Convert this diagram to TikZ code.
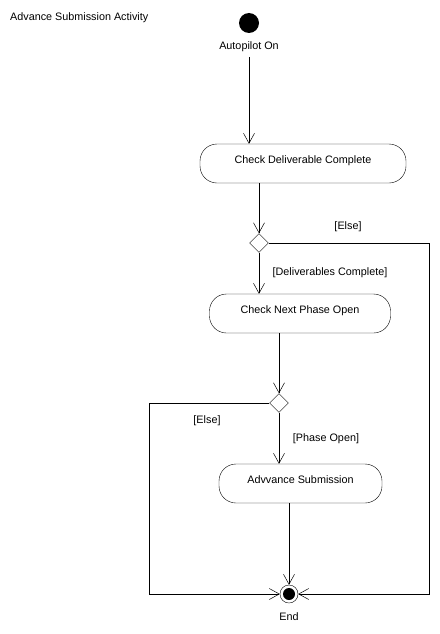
\documentclass[tikz,border=0pt]{standalone}
\usepackage{fontspec}
\setmainfont{Liberation Sans}
\usetikzlibrary{positioning,arrows.meta,shapes.geometric}
\tikzset{
  startnode/.style={circle, fill=black, minimum size=20pt, inner sep=0pt
  },
  endnode/.style={draw, circle, minimum size=18pt, inner sep=0pt,
    path picture={\fill (path picture bounding box.center) circle (6pt);}
  },
  actnode/.style={draw, rectangle, rounded corners=17pt, minimum height=39pt,
    inner sep=0pt, text depth=7pt
  },
  decnode/.style={draw, diamond, aspect=1, minimum width=19pt,
    minimum height=19pt, inner sep=0pt
  },
  txt/.style={inner sep=0pt
  },
  flow/.style={-{Straight Barb[length=10pt,width=11pt]}, line width=0.5pt
  }
}

\begin{document}
\begin{tikzpicture}[x=1pt, y=-1pt, font=\fontsize{10.8}{12}\selectfont]
 \useasboundingbox (0,0) rectangle (439,634);
 \node[txt, anchor=west] (title) at (10,18) {Advance Submission Activity};
 \node[startnode] (start) at (249,23) {};
 \node[txt] (startlbl) at (249,47) {Autopilot On};
 \node[actnode, minimum width=206pt] (chkdel) at (303,163.5) {Check Deliverable Complete};
 \node[decnode] (dec1) at (259,243) {};
 \node[actnode, minimum width=181pt] (chknext) at (300,313.5) {Check Next Phase Open};
 \node[decnode] (dec2) at (279,403) {};
 \node[actnode, minimum width=163pt] (adv) at (300.5,483.5) {Advvance Submission};
 \node[endnode] (endn) at (289,594) {};
 \node[txt] (endlbl) at (289,617) {End};
 \coordinate (rightc) at (429,594);
 \coordinate (leftc) at (149,594);

 \node[txt] (else1) at (348,227) {[Else]};
 \node[txt] (delok) at (330,273) {[Deliverables Complete]};
 \node[txt] (else2) at (207,421) {[Else]};
 \node[txt] (phok) at (326,439) {[Phase Open]};

 \draw[flow] (start |- 0,57) -- (start |- chkdel.north);
 \draw[flow] (chkdel.south -| dec1.north) -- (dec1.north);
 \draw[flow] (dec1.south) -- (dec1.south |- chknext.north);
 \draw[flow] (dec1.east) -| (rightc) -- (endn.east);
 \draw[flow] (chknext.south -| dec2.north) -- (dec2.north);
 \draw[flow] (dec2.south) -- (dec2.south |- adv.north);
 \draw[flow] (dec2.west) -| (leftc) -- (endn.west);
 \draw[flow] (adv.south -| endn.north) -- (endn.north);
\end{tikzpicture}
\end{document}
